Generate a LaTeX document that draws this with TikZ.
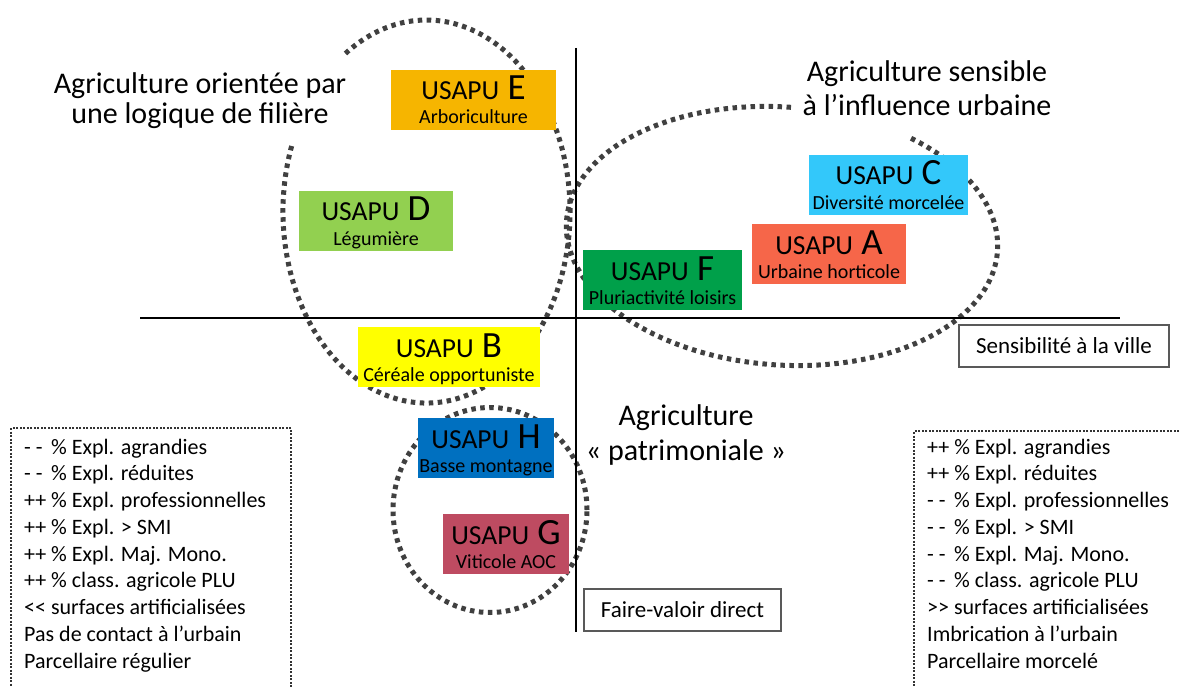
\documentclass[tikz,border=0pt]{standalone}
\usepackage{fontspec}
\setmainfont{Carlito}
\definecolor{cE}{HTML}{F6B500}
\definecolor{cD}{HTML}{92D050}
\definecolor{cC}{HTML}{33C8FA}
\definecolor{cA}{HTML}{F66649}
\definecolor{cF}{HTML}{00A04A}
\definecolor{cB}{HTML}{FFFF00}
\definecolor{cH}{HTML}{0070C0}
\definecolor{cG}{HTML}{BE4B61}
\tikzset{
  dotline/.style={draw=black!75, line width=5pt, dash pattern=on 4.5pt off 4.5pt},
  axisline/.style={draw=black, line width=2.2pt},
  ubox/.style={rectangle, inner sep=0pt, minimum height=60pt, anchor=north},
  utitle/.style={inner sep=0pt, anchor=base, font=\fontsize{27.5}{27.5}\selectfont},
  usub/.style={inner sep=0pt, anchor=base, font=\fontsize{20}{20}\selectfont},
  legbox/.style={rectangle, draw=black!80, line width=2.4pt, dash pattern=on 2pt off 1.5pt, inner sep=0pt, anchor=north west},
  legtext/.style={inner sep=0pt, anchor=base west, font=\fontsize{22}{26.75}\selectfont},
  labbox/.style={rectangle, draw=black!65, line width=1.2pt, inner sep=0pt, minimum height=42pt, font=\fontsize{23}{23}\selectfont},
  title/.style={inner sep=0pt, anchor=base}
}
\newcommand\usapu[7]{%
  \node[ubox, fill=#5, minimum width=#4pt] (#1) at (#2,-#3) {};
  \node[utitle, yshift=-30pt] (#1t) at (#1.north) {USAPU\hspace{0.3em}{\fontsize{37}{37}\selectfont #6}};
  \node[usub, yshift=-54pt] (#1s) at (#1.north) {#7};
}
\newcommand\mm{\makebox[1.222em][l]{- -}}
\begin{document}
\begin{tikzpicture}[x=1pt,y=1pt]
\useasboundingbox (0,0) rectangle (1180,-687);
\clip (0,0) rectangle (1180,-687);
\fill[white] (0,0) rectangle (1180,-687);

% ellipses
\draw[dotline] (426.5,-211.5) ++(160:143.5 and 191.5)
  arc[start angle=160, end angle=485, x radius=143.5, y radius=191.5];
\begin{scope}[rotate around={-4:(782,-236)}]
\draw[dotline] (782,-236) ++(90:216 and 129)
  arc[start angle=90, end angle=416, x radius=216, y radius=129];
\end{scope}
\draw[dotline] (490,-510) ellipse[x radius=97, y radius=102.5];

% axes
\coordinate (hx1) at (140,-318);
\coordinate (hx2) at (1120,-318);
\coordinate (vy1) at (576,-48);
\coordinate (vy2) at (576,-632);
\draw[axisline] (hx1) -- (hx2);
\draw[axisline] (vy1) -- (vy2);

% boxes
\usapu{E}{473.5}{70}{165}{cE}{E}{Arboriculture}
\usapu{D}{376}{191}{154}{cD}{D}{Légumière}
\usapu{C}{888.5}{155}{159}{cC}{C}{Diversité morcelée}
\usapu{A}{829}{224}{154}{cA}{A}{Urbaine horticole}
\usapu{F}{662.5}{250}{159}{cF}{F}{Pluriactivité loisirs}
\usapu{B}{449}{327}{182}{cB}{B}{Céréale opportuniste}
\usapu{H}{486}{418}{136}{cH}{H}{Basse montagne}
\usapu{G}{506}{514}{126}{cG}{G}{Viticole AOC}

% titles
\node[title] (T1) at (200,-93.5) {\fontsize{30}{30}\selectfont\begin{tabular}[t]{@{}c@{}}Agriculture orientée par\\une logique de filière\end{tabular}};
\node[title] (T2) at (927,-82) {\fontsize{30}{34}\selectfont\begin{tabular}[t]{@{}c@{}}Agriculture sensible\\à l’influence urbaine\end{tabular}};
\node[title] (T3) at (686,-425) {\fontsize{30}{35}\selectfont\begin{tabular}[t]{@{}c@{}}Agriculture\\« patrimoniale »\end{tabular}};

% axis labels
\node[labbox, minimum width=210pt] (S) at (1064,-346) {Sensibilité à la ville};
\node[labbox, minimum width=197pt] (FV) at (682.5,-610) {Faire-valoir direct};

% legends
\node[legbox, minimum width=280pt, minimum height=280pt] (Lbox) at (10,-427) {};
\node[legtext] (Ltext) at (24,-454) {\begin{tabular}[t]{@{}l@{}}
\mm\% Expl. agrandies\\
\mm\% Expl. réduites\\
++ \% Expl. professionnelles\\
++ \% Expl. > SMI\\
++ \% Expl. Maj. Mono.\\
++ \% class. agricole PLU\\
<{}< surfaces artificialisées\\
Pas de contact à l’urbain\\
Parcellaire régulier
\end{tabular}};
\node[legbox, minimum width=290pt, minimum height=280pt] (Rbox) at (913,-430) {};
\node[legtext] (Rtext) at (927,-454) {\begin{tabular}[t]{@{}l@{}}
++ \% Expl. agrandies\\
++ \% Expl. réduites\\
\mm\% Expl. professionnelles\\
\mm\% Expl. > SMI\\
\mm\% Expl. Maj. Mono.\\
\mm\% class. agricole PLU\\
>{}> surfaces artificialisées\\
Imbrication à l’urbain\\
Parcellaire morcelé
\end{tabular}};
\end{tikzpicture}
\end{document}
